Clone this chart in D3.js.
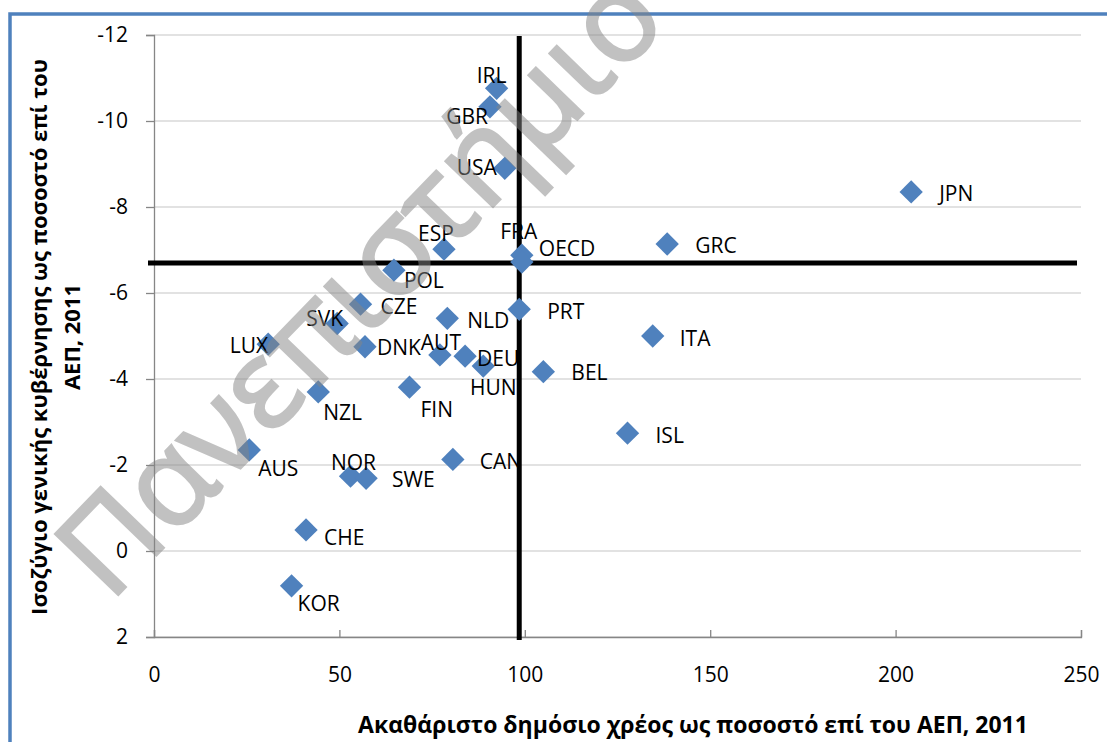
<!DOCTYPE html>
<html>
<head>
<meta charset="utf-8">
<script src="https://cdn.jsdelivr.net/npm/d3@7"></script>
<style>
  html, body { margin: 0; padding: 0; background: #fff; }
  svg { display: block; font-family: "Open Sans", sans-serif; }
</style>
</head>
<body>
<svg id="chart" width="1107" height="742"></svg>
<script>
'use strict';

// data
const countries = ['IRL','GBR','USA','JPN','GRC','ESP','FRA','OECD','POL','CZE',
                   'SVK','LUX','NLD','PRT','ITA','DNK','AUT','DEU','HUN','BEL',
                   'FIN','NZL','ISL','AUS','CAN','NOR','SWE','CHE','KOR'];
const debt =    [92.4, 90.6, 94.6, 204.2, 138.4, 78.2, 99.2, 99.2, 64.7, 55.7,
                 49.4, 30.8, 79.1, 98.5, 134.5, 56.9, 77.1, 83.9, 88.8, 105.0,
                 68.9, 44.3, 127.7, 25.7, 80.6, 53.0, 57.2, 41.0, 37.1];
const balance = [-10.76, -10.33, -8.90, -8.35, -7.14, -7.02, -6.88, -6.72, -6.53, -5.74,
                 -5.29, -4.81, -5.41, -5.62, -5.00, -4.75, -4.56, -4.53, -4.30, -4.17,
                 -3.81, -3.70, -2.74, -2.35, -2.13, -1.74, -1.69, -0.49, 0.81];

const xTicks = [0, 50, 100, 150, 200, 250];
const yTicks = [-12, -10, -8, -6, -4, -2, 0, 2];

// OECD reference lines (debt, balance)
const refDebt = 98.5;
const refBalance = -6.7;

const xTitle = 'Ακαθάριστο δημόσιο χρέος ως ποσοστό επί του ΑΕΠ, 2011';
const yTitle = ['Ισοζύγιο γενικής κυβέρνησης ως ποσοστό επί του', 'ΑΕΠ, 2011'];
const watermark = 'Πανεπιστήμιο Κρήτης';

// label placement: [dx, dy, anchor]
const labelPlace = {
  IRL: [-5, -13, 'middle'], GBR: [-2, 10, 'end'],  USA: [-8, -1, 'end'],
  JPN: [28, 1, 'start'],    GRC: [28, 1, 'start'], ESP: [-8, -16, 'middle'],
  FRA: [-3, -24, 'middle'], OECD: [17, -14, 'start'], POL: [10, 10, 'start'],
  CZE: [20, 2, 'start'],    SVK: [6, -5, 'end'],   LUX: [0, 1, 'end'],
  NLD: [20, 2, 'start'],    PRT: [28, 2, 'start'], ITA: [27, 2, 'start'],
  DNK: [12, 1, 'start'],    AUT: [1, -12, 'middle'], DEU: [12, 2, 'start'],
  HUN: [10, 21, 'middle'],  BEL: [28, 1, 'start'], FIN: [11, 22, 'start'],
  NZL: [5, 21, 'start'],    ISL: [28, 2, 'start'], AUS: [9, 18, 'start'],
  CAN: [27, 2, 'start'],    NOR: [3, -14, 'middle'], SWE: [26, 1, 'start'],
  CHE: [18, 8, 'start'],    KOR: [6, 18, 'start']
};

const points = countries.map((c, i) => ({ c: c, d: debt[i], v: balance[i] }));

const margin = { top: 35, right: 26, bottom: 105, left: 154 };
const width = 1107 - margin.left - margin.right;
const height = 742 - margin.top - margin.bottom;

const x = d3.scaleLinear().domain([0, 250]).range([0, width]);
const y = d3.scaleLinear().domain([-12, 2]).range([0, height]);

const root = d3.select('#chart');

// outer frame (only top and left visible)
root.append('path')
    .attr('d', 'M10,742 L10,14 L1107,14')
    .attr('fill', 'none')
    .attr('stroke', '#4f81bd')
    .attr('stroke-width', 3.5);

const svg = root.append('g')
    .attr('transform', `translate(${margin.left},${margin.top})`);

// gridlines
svg.append('g')
  .selectAll('line')
  .data(yTicks)
  .enter().append('line')
    .attr('x1', 0).attr('x2', width)
    .attr('y1', (d) => y(d)).attr('y2', (d) => y(d))
    .attr('stroke', '#d9d9d9')
    .attr('stroke-width', 1.3);

// axes
const yAxis = svg.append('g')
    .call(d3.axisLeft(y).tickValues(yTicks).tickSize(8).tickPadding(18).tickFormat(d3.format('d')));
const xAxis = svg.append('g')
    .attr('transform', `translate(0,${height})`)
    .call(d3.axisBottom(x).tickValues(xTicks).tickSize(-7).tickPadding(30));

[xAxis, yAxis].forEach((a) => {
  a.select('.domain').attr('stroke', '#868686').attr('stroke-width', 1.3);
  a.selectAll('.tick line').attr('stroke', '#868686').attr('stroke-width', 1.3);
  a.selectAll('.tick text')
    .attr('fill', '#000')
    .style('font-size', '21px')
    .style('font-family', '"Open Sans", sans-serif');
});
yAxis.selectAll('.tick text').text((d) => String(d));

// reference lines
svg.append('line')
    .attr('x1', x(refDebt)).attr('x2', x(refDebt))
    .attr('y1', 1).attr('y2', height + 3)
    .attr('stroke', '#000').attr('stroke-width', 5);
svg.append('line')
    .attr('x1', -6).attr('x2', width - 4)
    .attr('y1', y(refBalance)).attr('y2', y(refBalance))
    .attr('stroke', '#000').attr('stroke-width', 5);

// markers
const diamond = d3.symbol().type(d3.symbolSquare).size(272);
svg.append('g')
  .selectAll('path')
  .data(points)
  .enter().append('path')
    .attr('d', diamond)
    .attr('transform', (d) => `translate(${x(d.d)},${y(d.v)}) rotate(45)`)
    .attr('fill', '#4f81bd');

// labels
svg.append('g')
  .selectAll('text')
  .data(points)
  .enter().append('text')
    .attr('x', (d) => x(d.d) + labelPlace[d.c][0])
    .attr('y', (d) => y(d.v) + labelPlace[d.c][1])
    .attr('dy', '0.36em')
    .attr('text-anchor', (d) => labelPlace[d.c][2])
    .style('font-size', '21px')
    .attr('fill', '#000')
    .text((d) => d.c);

// axis titles
root.append('text')
    .attr('x', 693)
    .attr('y', 733)
    .attr('text-anchor', 'middle')
    .style('font-size', '23px')
    .style('font-weight', 'bold')
    .text(xTitle);

const yt = root.append('text')
    .attr('transform', 'translate(0,337) rotate(-90)')
    .attr('text-anchor', 'middle')
    .style('font-size', '22px')
    .style('font-weight', 'bold');
yt.selectAll('tspan')
  .data(yTitle)
  .enter().append('tspan')
    .attr('x', 0)
    .attr('y', (d, i) => 47 + i * 33)
    .text((d) => d);

// watermark
root.append('g')
    .attr('opacity', 0.5)
  .append('text')
    .attr('transform', 'translate(110,603) rotate(-46)')
    .style('font-size', '122px')
    .attr('fill', '#858585')
    .attr('stroke', '#858585')
    .attr('stroke-width', 3)
    .text(watermark);
</script>
</body>
</html>
